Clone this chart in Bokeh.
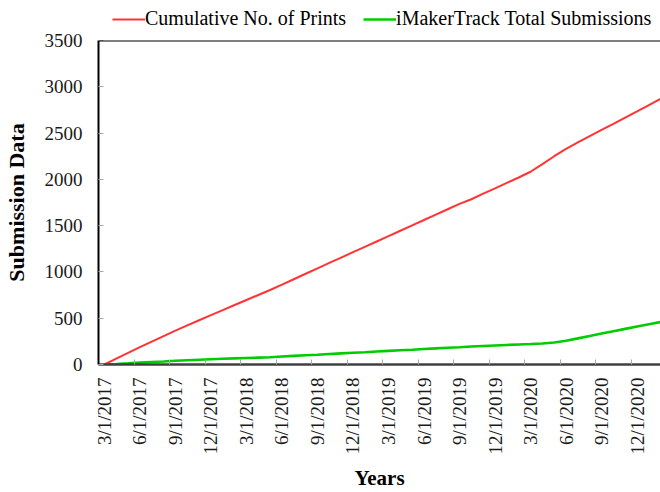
import math
from bokeh.plotting import figure
from bokeh.layouts import column
from bokeh.models import Range1d, FixedTicker, Legend, LegendItem, Span
from bokeh.embed import file_html
from bokeh.resources import INLINE

# Monthly dates, Mar 2017 .. Feb 2021
months = [
    "3/1/2017", "4/1/2017", "5/1/2017", "6/1/2017", "7/1/2017", "8/1/2017",
    "9/1/2017", "10/1/2017", "11/1/2017", "12/1/2017", "1/1/2018", "2/1/2018",
    "3/1/2018", "4/1/2018", "5/1/2018", "6/1/2018", "7/1/2018", "8/1/2018",
    "9/1/2018", "10/1/2018", "11/1/2018", "12/1/2018", "1/1/2019", "2/1/2019",
    "3/1/2019", "4/1/2019", "5/1/2019", "6/1/2019", "7/1/2019", "8/1/2019",
    "9/1/2019", "10/1/2019", "11/1/2019", "12/1/2019", "1/1/2020", "2/1/2020",
    "3/1/2020", "4/1/2020", "5/1/2020", "6/1/2020", "7/1/2020", "8/1/2020",
    "9/1/2020", "10/1/2020", "11/1/2020", "12/1/2020", "1/1/2021", "2/1/2021",
]

cumulative_prints = [
    0, 63, 126, 188, 248, 307, 365, 422, 478, 533, 588, 643,
    697, 751, 805, 862, 921, 980, 1039, 1097, 1155, 1213, 1271, 1329,
    1387, 1445, 1503, 1561, 1619, 1677, 1735, 1785, 1845, 1903, 1962, 2020,
    2082, 2165, 2250, 2330, 2400, 2468, 2535, 2600, 2668, 2735, 2803, 2870,
]

imakertrack_submissions = [
    0, 5, 12, 20, 27, 33, 40, 46, 52, 57, 62, 66,
    70, 74, 78, 86, 93, 100, 106, 113, 120, 127, 133, 140,
    147, 154, 160, 167, 174, 181, 187, 194, 200, 206, 211, 216,
    221, 227, 238, 256, 282, 308, 335, 360, 385, 410, 435, 460,
]

series_names = ["Cumulative No. of Prints", "iMakerTrack Total Submissions"]
series_values = [cumulative_prints, imakertrack_submissions]
series_colors = ["#FF3333", "#00CC00"]
series_widths = [2, 2.6]

y_ticks = [0, 500, 1000, 1500, 2000, 2500, 3000, 3500]

x = list(range(len(months)))
label_idx = list(range(0, len(months), 3))

FONT = "Liberation Serif"

# ---------- legend strip (its lines lie outside its own visible range) ----------
leg = figure(
    width=660, height=30, output_backend="svg", toolbar_location=None,
    x_range=Range1d(-0.5, 46.98), y_range=Range1d(-20, -10),
    x_axis_location=None, y_axis_location=None,
    min_border=0, min_border_left=0, min_border_right=0, min_border_top=0, min_border_bottom=0,
)
leg.outline_line_color = None
leg.grid.visible = False
leg_renderers = [
    leg.line(x, v, line_color=c, line_width=w)
    for v, c, w in zip(series_values, series_colors, series_widths)
]
legend = Legend(
    items=[LegendItem(label=n, renderers=[r]) for n, r in zip(series_names, leg_renderers)],
    orientation="horizontal", location=(14, 0),
    glyph_width=33, glyph_height=20, label_height=20, label_standoff=0,
    spacing=17, padding=0, margin=0,
    border_line_color=None, background_fill_alpha=0,
    label_text_font=FONT, label_text_font_size="20px", label_text_color="black",
)
leg.add_layout(legend)

# ---------- main chart ----------
p = figure(
    width=660, height=462, output_backend="svg", toolbar_location=None,
    x_range=Range1d(-0.5, 46.98), y_range=Range1d(0, 3500),
    min_border_left=95, min_border_right=0, min_border_top=10, min_border_bottom=128,
)
p.outline_line_color = None
p.background_fill_color = "white"
p.border_fill_color = "white"
p.xgrid.visible = False
p.ygrid.visible = False

for v, c, w in zip(series_values, series_colors, series_widths):
    p.line(x, v, line_color=c, line_width=w)

p.add_layout(Span(location=3500, dimension="width", line_color="black", line_width=2))

# x axis
xa = p.xaxis[0]
xa.ticker = FixedTicker(ticks=label_idx, minor_ticks=[i - 0.5 for i in range(0, len(months) + 1, 3)])
xa.major_label_overrides = {i: months[i] for i in label_idx}
xa.major_tick_in = 0
xa.major_tick_out = 0
xa.minor_tick_in = 5
xa.minor_tick_out = 0
xa.minor_tick_line_color = "#A6A6A6"
xa.axis_line_color = "#404040"
xa.axis_line_width = 2.5
xa.major_label_orientation = math.pi / 2
xa.major_label_standoff = 13
xa.major_label_text_font = FONT
xa.major_label_text_font_size = "19px"
xa.major_label_text_color = "#1a1a1a"
xa.axis_label = "Years"
xa.axis_label_text_font = FONT
xa.axis_label_text_font_size = "21px"
xa.axis_label_text_font_style = "bold"
xa.axis_label_text_color = "black"
xa.axis_label_standoff = 8

# y axis
ya = p.yaxis[0]
ya.ticker = FixedTicker(ticks=y_ticks, minor_ticks=[])
ya.major_tick_in = 5
ya.major_tick_out = 0
ya.major_tick_line_color = "#A6A6A6"
ya.axis_line_color = "black"
ya.axis_line_width = 2
ya.major_label_standoff = 16
ya.major_label_text_font = FONT
ya.major_label_text_font_size = "19px"
ya.major_label_text_color = "#1a1a1a"
ya.axis_label = "Submission Data"
ya.axis_label_text_font = FONT
ya.axis_label_text_font_size = "22px"
ya.axis_label_text_font_style = "bold"
ya.axis_label_text_color = "black"
ya.axis_label_standoff = 13

layout = column(leg, p, spacing=0)

open("out.html", "w").write(file_html(layout, INLINE))
